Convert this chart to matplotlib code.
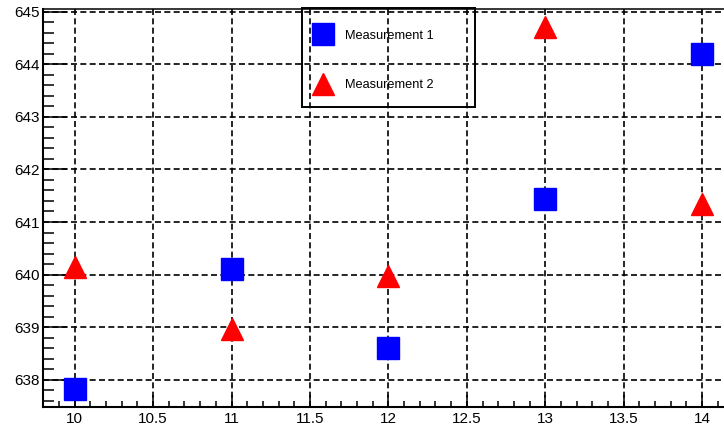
import matplotlib
matplotlib.use("Agg")
import matplotlib.pyplot as plt
from matplotlib.ticker import MultipleLocator
from matplotlib.patches import Rectangle

# --- data -------------------------------------------------------------------
runs = [10, 11, 12, 13, 14]
meas1 = [637.82, 640.10, 638.60, 641.43, 644.19]
meas2 = [640.15, 638.97, 639.98, 644.70, 641.35]
series_labels = ["Measurement 1", "Measurement 2"]

x_ticks = [10, 10.5, 11, 11.5, 12, 12.5, 13, 13.5, 14]
x_tick_labels = ["10", "10.5", "11", "11.5", "12", "12.5", "13", "13.5", "14"]
y_ticks = [638, 639, 640, 641, 642, 643, 644, 645]
y_tick_labels = ["638", "639", "640", "641", "642", "643", "644", "645"]

plt.rcParams["font.family"] = ["Liberation Sans", "DejaVu Sans"]

# --- figure / axes ----------------------------------------------------------
fig = plt.figure(figsize=(7.24, 4.25), dpi=100)
ax = fig.add_axes([0.0598, 0.0431, 0.9533, 0.9346])

ax.plot(runs, meas1, "s", color="#0000ff", markersize=16, label=series_labels[0])
ax.plot(runs, meas2, "^", color="#ff0000", markersize=16, label=series_labels[1])

ax.set_xlim(9.8, 14.2)
ax.set_ylim(637.49, 645.04)

ax.set_xticks(x_ticks)
ax.set_xticklabels(x_tick_labels)
ax.set_yticks(y_ticks)
ax.set_yticklabels(y_tick_labels)
ax.xaxis.set_minor_locator(MultipleLocator(0.1))
ax.yaxis.set_minor_locator(MultipleLocator(0.2))

ax.tick_params(axis="both", which="both", direction="in", color="black",
               top=False, right=False, labelsize=11)
ax.tick_params(axis="x", which="major", length=8.5, width=1.1, pad=3.6)
ax.tick_params(axis="x", which="minor", length=4.3, width=1.1)
ax.tick_params(axis="y", which="major", length=17, width=1.1, pad=2.5)
ax.tick_params(axis="y", which="minor", length=8, width=1.1)

for side in ["left", "bottom"]:
    ax.spines[side].set_linewidth(1.5)
ax.spines["top"].set_linewidth(1.1)

# dashed grid on the major ticks
ax.set_axisbelow(True)
ax.grid(True, which="major", color="black", linestyle=(0, (3.6, 2)), linewidth=1.2)

# --- legend -----------------------------------------------------------------
leg = ax.legend(loc="center left", bbox_to_anchor=(301.7 / 724, 0.8580),
                bbox_transform=fig.transFigure, frameon=False,
                prop={"family": ["Liberation Sans"], "size": 9.2},
                handlelength=2.42, handletextpad=0.51, borderpad=0.45,
                borderaxespad=0, labelspacing=2.93, numpoints=1)
fig.add_artist(Rectangle((0.4167, 0.7482), 0.2394, 0.2329, transform=fig.transFigure,
                         fill=False, edgecolor="black", linewidth=1.4))

fig.savefig("out.png", dpi=100)
